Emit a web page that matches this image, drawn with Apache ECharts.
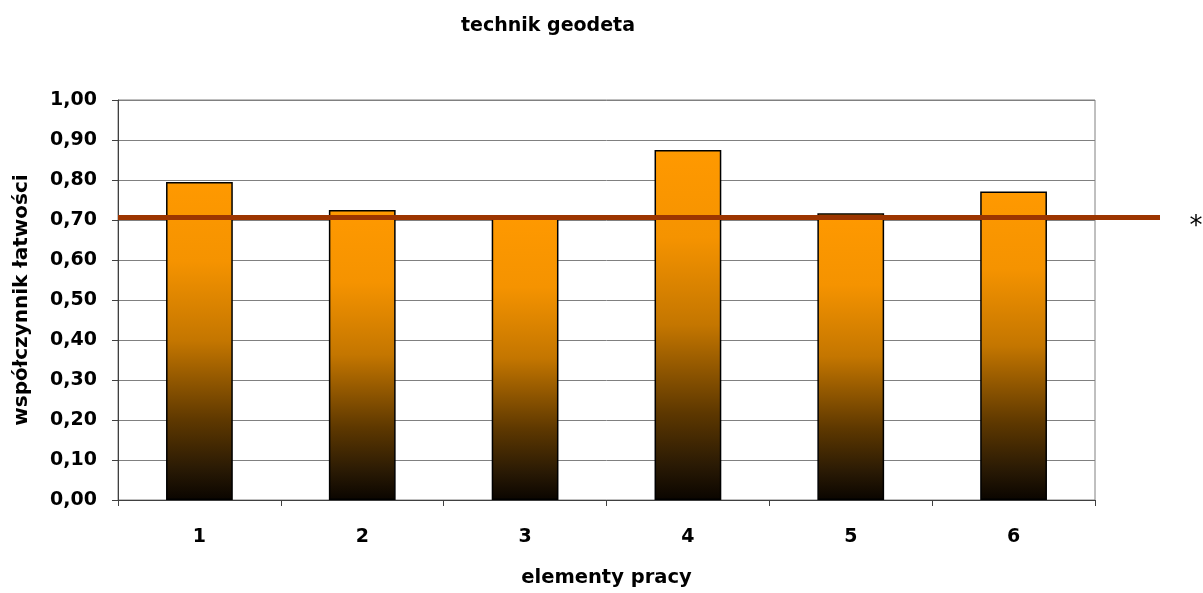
<!DOCTYPE html>
<html><head><meta charset="utf-8">
<script src="https://cdn.jsdelivr.net/npm/echarts@6/dist/echarts.min.js"></script>
<style>html,body{margin:0;padding:0;background:#fff}#c{width:1203px;height:593px}</style>
</head><body><div id="c"></div>
<script>
const categories = ['1','2','3','4','5','6'];
const values = [0.795, 0.725, 0.71, 0.875, 0.717, 0.771];
const refLevel = 0.706;
const yTicks = [0,0.1,0.2,0.3,0.4,0.5,0.6,0.7,0.8,0.9,1.0];

const FONT = '"DejaVu Sans", sans-serif';
const chart = echarts.init(document.getElementById('c'));
chart.setOption({
  backgroundColor: '#fff',
  animation: false,
  title: {
    text: 'technik geodeta', left: 543, top: 12, textAlign: 'center',
    textStyle: {fontFamily: FONT, fontWeight: 'bold', fontSize: 19, color: '#000'}
  },
  grid: [
    {left: 118, right: 108, top: 100, bottom: 93, show: true, borderColor: '#808080', borderWidth: 1},
    {left: 118, right: 43, top: 100, bottom: 93}
  ],
  xAxis: [
    {
      type: 'category', data: categories, gridIndex: 0,
      name: 'elementy pracy', nameLocation: 'middle', nameGap: 68,
      nameTextStyle: {fontFamily: FONT, fontWeight: 'bold', fontSize: 19.5, color: '#000'},
      axisLine: {lineStyle: {color: '#404040', width: 1}},
      axisTick: {show: true, length: 6, alignWithLabel: false, lineStyle: {color: '#404040'}},
      axisLabel: {fontFamily: FONT, fontWeight: 'bold', fontSize: 19, color: '#000', margin: 28}
    },
    {type: 'value', gridIndex: 1, min: 0, max: 1, show: false}
  ],
  yAxis: [
    {
      type: 'value', gridIndex: 0, min: 0, max: 1, interval: 0.1,
      name: 'współczynnik łatwości', nameLocation: 'middle', nameGap: 86, nameRotate: 90,
      nameTextStyle: {fontFamily: FONT, fontWeight: 'bold', fontSize: 20, color: '#000'},
      axisLine: {show: true, lineStyle: {color: '#404040', width: 1}},
      axisTick: {show: true, length: 6, lineStyle: {color: '#404040'}},
      axisLabel: {fontFamily: FONT, fontWeight: 'bold', fontSize: 19, color: '#000', margin: 21,
        formatter: v => v.toFixed(2).replace('.', ',')},
      splitLine: {show: true, lineStyle: {color: '#808080', width: 1}}
    },
    {type: 'value', gridIndex: 1, min: 0, max: 1, show: false}
  ],
  series: [
    {
      type: 'bar', xAxisIndex: 0, yAxisIndex: 0, data: values, barWidth: '41%',
      itemStyle: {
        borderColor: '#000', borderWidth: 1.5,
        color: new echarts.graphic.LinearGradient(0, 0, 0, 1, [
          {offset: 0, color: '#FF9900'},
          {offset: 0.25, color: '#F59300'},
          {offset: 0.5, color: '#C47600'},
          {offset: 0.75, color: '#5E3800'},
          {offset: 0.9, color: '#2A1A04'},
          {offset: 1, color: '#0A0500'}
        ])
      }
    },
    {
      type: 'line', xAxisIndex: 1, yAxisIndex: 1, z: 5,
      data: [[0, refLevel], [1, refLevel]], symbol: 'none',
      lineStyle: {color: '#9C3500', width: 5}
    }
  ],
  graphic: [
    {type: 'text', x: 1196, y: 214, style: {text: '*', font: '26px "DejaVu Sans", sans-serif', fill: '#000', align: 'center'}}
  ]
});
</script></body></html>
